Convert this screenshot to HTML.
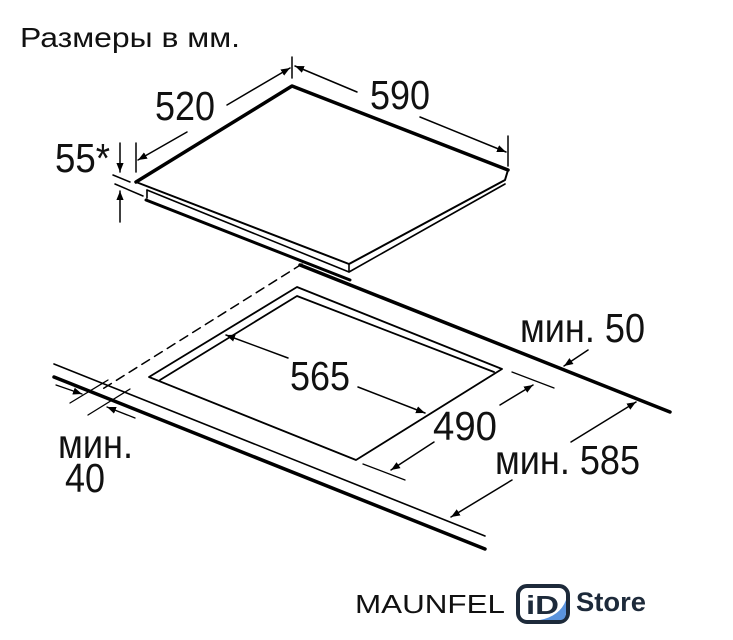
<!DOCTYPE html>
<html><head><meta charset="utf-8"><style>
html,body{margin:0;padding:0;background:#fff;}
svg{display:block}
text{font-family:"Liberation Sans",sans-serif;fill:#111}
</style></head><body>
<svg width="733" height="640" viewBox="0 0 733 640" xmlns="http://www.w3.org/2000/svg">
<defs>
<marker id="a" viewBox="0 0 10 10" refX="10" refY="5" markerWidth="9" markerHeight="9" orient="auto-start-reverse" markerUnits="userSpaceOnUse"><path d="M0,1 L10,5 L0,9 z" fill="#000"/></marker>
</defs>
<text x="20" y="47" font-size="28" textLength="220" lengthAdjust="spacingAndGlyphs">Размеры в мм.</text>

<g stroke="#000" fill="none" stroke-linecap="round" stroke-linejoin="round">
<polyline points="136,182 292,86 508,170" stroke-width="3.5"/>
<polyline points="508,170 505,180 349,264 136,182" stroke-width="2"/>
<polyline points="147,190 349,272 505,184" stroke-width="1.6"/>
<line x1="147" y1="190" x2="147" y2="198" stroke-width="1.6"/>
<line x1="146" y1="200" x2="350" y2="280" stroke-width="3"/>
<line x1="349" y1="264" x2="349" y2="272" stroke-width="1.6"/>

<line x1="292" y1="57" x2="292" y2="78" stroke-width="1.5"/>
<line x1="136" y1="143" x2="136" y2="172" stroke-width="1.5"/>
<line x1="508" y1="136" x2="508" y2="166" stroke-width="1.5"/>
<line x1="227" y1="105" x2="290" y2="68" stroke-width="1.5" marker-end="url(#a)"/>
<line x1="187" y1="132" x2="138" y2="160" stroke-width="1.5" marker-end="url(#a)"/>
<line x1="357" y1="92" x2="295" y2="66" stroke-width="1.5" marker-end="url(#a)"/>
<line x1="420" y1="117" x2="506" y2="152" stroke-width="1.5" marker-end="url(#a)"/>
<line x1="120" y1="143" x2="120" y2="172" stroke-width="1.5" marker-end="url(#a)"/>
<line x1="120" y1="222" x2="120" y2="191" stroke-width="1.5" marker-end="url(#a)"/>
<line x1="113" y1="175" x2="130" y2="182" stroke-width="1.5"/>
<line x1="115" y1="184" x2="143" y2="196" stroke-width="1.5"/>

<line x1="300" y1="265" x2="670" y2="412" stroke-width="3.5"/>
<line x1="302" y1="264" x2="101" y2="390" stroke-width="1.5" stroke-dasharray="9,6"/>
<line x1="54" y1="364" x2="485" y2="536" stroke-width="1.6"/>
<line x1="54" y1="377" x2="485" y2="549" stroke-width="3.5"/>

<polygon points="149,377 297,287 502,369 356,460" stroke-width="1.8"/>
<polyline points="160,380 297,296 494,372" stroke-width="1.8"/>

<line x1="70" y1="403" x2="108" y2="380" stroke-width="1.3"/>
<line x1="88" y1="415" x2="130" y2="389" stroke-width="1.3"/>
<line x1="56" y1="385" x2="82" y2="394" stroke-width="1.3" marker-end="url(#a)"/>
<line x1="135" y1="418" x2="107" y2="407" stroke-width="1.3" marker-end="url(#a)"/>

<line x1="288" y1="358" x2="226" y2="335" stroke-width="1.5" marker-end="url(#a)"/>
<line x1="358" y1="387" x2="425" y2="413" stroke-width="1.5" marker-end="url(#a)"/>
<line x1="512" y1="372" x2="554" y2="388" stroke-width="1.3"/>
<line x1="363" y1="464" x2="405" y2="480" stroke-width="1.3"/>
<line x1="500" y1="405" x2="533" y2="385" stroke-width="1.5" marker-end="url(#a)"/>
<line x1="434" y1="442" x2="391" y2="470" stroke-width="1.5" marker-end="url(#a)"/>
<line x1="588" y1="350" x2="564" y2="366" stroke-width="1.5" marker-end="url(#a)"/>
<line x1="571" y1="442" x2="636" y2="402" stroke-width="1.5" marker-end="url(#a)"/>
<line x1="512" y1="480" x2="451" y2="517" stroke-width="1.5" marker-end="url(#a)"/>
</g>

<g font-size="41" lengthAdjust="spacingAndGlyphs">
<text x="155" y="120" textLength="60" lengthAdjust="spacingAndGlyphs">520</text>
<text x="370" y="109" textLength="60" lengthAdjust="spacingAndGlyphs">590</text>
<text x="55" y="172" textLength="55" lengthAdjust="spacingAndGlyphs">55*</text>
<text x="290" y="390" textLength="60" lengthAdjust="spacingAndGlyphs">565</text>
<text x="433" y="440" textLength="64" lengthAdjust="spacingAndGlyphs">490</text>
<text x="520" y="342" textLength="125" lengthAdjust="spacingAndGlyphs">мин. 50</text>
<text x="495" y="474" textLength="145" lengthAdjust="spacingAndGlyphs">мин. 585</text>
<text x="58" y="458" textLength="75" lengthAdjust="spacingAndGlyphs">мин.</text>
<text x="65" y="492" textLength="40" lengthAdjust="spacingAndGlyphs">40</text>
</g>

<text x="355" y="613" font-size="26" textLength="150" lengthAdjust="spacingAndGlyphs">MAUNFEL</text>
<rect x="518" y="586" width="50" height="36" rx="9" fill="#fff" stroke="#1d2a3a" stroke-width="4"/>
<path d="M540,620 L560,620 Q566,620 566,612 L566,600 Q560,616 540,620z" fill="#5a93dd"/>
<text x="526" y="614" font-size="26" font-weight="bold" style="fill:#1d2a3a" textLength="33" lengthAdjust="spacingAndGlyphs">iD</text>
<text x="576" y="611" font-size="27" font-weight="bold" style="fill:#1d2a3a" textLength="70" lengthAdjust="spacingAndGlyphs">Store</text>
</svg>
</body></html>
